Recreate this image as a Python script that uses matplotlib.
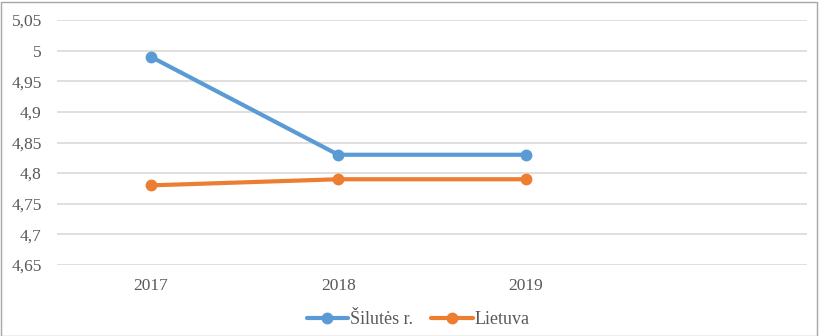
import matplotlib
matplotlib.use("Agg")
import matplotlib.pyplot as plt
from matplotlib.ticker import FuncFormatter, MultipleLocator
from matplotlib.patches import Rectangle

# Data
years = ["2017", "2018", "2019"]
silute = [4.99, 4.83, 4.83]
lietuva = [4.78, 4.79, 4.79]
n_slots = 4  # category axis keeps one empty slot on the right

blue = "#5B9BD5"
orange = "#ED7D31"
text_grey = "#595959"
grid_grey = "#D9D9D9"

plt.rcParams["font.family"] = ["Liberation Serif", "DejaVu Serif"]

fig = plt.figure(figsize=(8.2, 3.36), dpi=100)
ax = fig.add_axes([57 / 820, 1 - 265 / 336, 750 / 820, 245 / 336])

x = [i + 0.5 for i in range(len(years))]
ax.plot(x, silute, color=blue, lw=3, marker="o", ms=7.5, label="Šilutės r.",
        solid_capstyle="round", zorder=3)
ax.plot(x, lietuva, color=orange, lw=3, marker="o", ms=7.5, label="Lietuva",
        solid_capstyle="round", zorder=3)

ax.set_xlim(0, n_slots)
ax.set_ylim(4.65, 5.05)
ax.yaxis.set_major_locator(MultipleLocator(0.05))


def comma_fmt(v, pos):
    s = f"{v:.2f}".rstrip("0").rstrip(".")
    return s.replace(".", ",")


ax.yaxis.set_major_formatter(FuncFormatter(comma_fmt))
ax.set_xticks(x)
ax.set_xticklabels(years)
ax.tick_params(axis="both", length=0, labelsize=12.5, colors=text_grey)
ax.tick_params(axis="y", pad=11)
ax.tick_params(axis="x", pad=9)
ax.grid(axis="y", color=grid_grey, lw=1.2)
ax.set_axisbelow(True)
for s in ax.spines.values():
    s.set_visible(False)

leg = fig.legend(loc="center", bbox_to_anchor=(418 / 820, 1 - 320 / 336), ncol=2,
                 frameon=False, fontsize=13, handlelength=2.3, columnspacing=1.0,
                 handletextpad=0.1, labelcolor=text_grey)

# Outer chart border
fig.patches.append(Rectangle((0.5 / 820, 0.5 / 336), 817 / 820, 334 / 336,
                             transform=fig.transFigure, fill=False,
                             edgecolor="#A6A6A6", lw=1))

fig.savefig("out.png", dpi=100)
